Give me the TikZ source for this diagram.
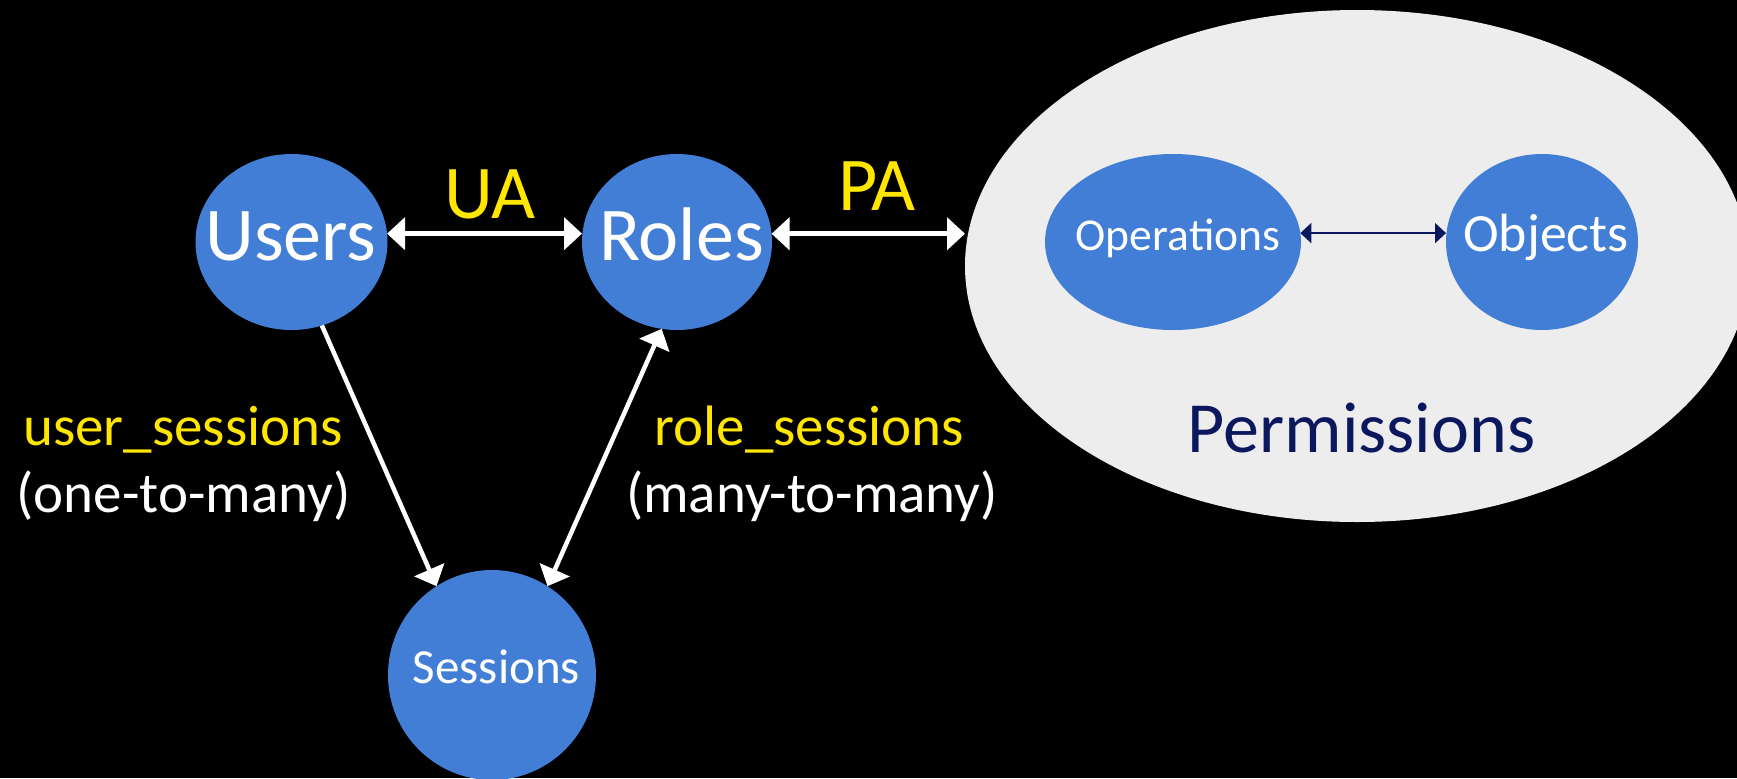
\documentclass[tikz,border=0pt]{standalone}
\usepackage{fontspec}
\setmainfont{Carlito}
\usetikzlibrary{arrows.meta,shapes.geometric}

\definecolor{entityblue}{RGB}{67,126,214}
\definecolor{permgrey}{RGB}{237,237,237}
\definecolor{permnavy}{RGB}{12,24,94}
\definecolor{relyellow}{RGB}{255,230,0}

\tikzset{
  blob/.style={ellipse, fill=entityblue, draw=none, inner sep=0pt, outer sep=0pt},
  nametxt/.style={inner sep=0pt, anchor=base, text=white},
  reltxt/.style={inner sep=0pt, anchor=base, text=relyellow},
  cardtxt/.style={inner sep=0pt, anchor=base, text=white},
  bigfont/.style={font=\fontsize{38}{40}\selectfont},
  labelfont/.style={font=\fontsize{28.5}{30}\selectfont},
  fattip/.tip={Triangle[length=9pt,width=16pt]},
  thintip/.tip={Triangle[length=5.5pt,width=10pt]},
  rel/.style={draw=white, line width=2.25pt, -fattip},
  birel/.style={draw=white, line width=2.25pt, fattip-fattip},
  navyrel/.style={draw=permnavy, line width=1pt, thintip-thintip},
}

\begin{document}
\begin{tikzpicture}[x=0.5pt,y=-0.5pt]
\useasboundingbox (0,0) rectangle (1737,778);
\clip (0,0) rectangle (1737,778);
\fill[black] (0,0) rectangle (1737,778);

% permission set with its two parts
\node[ellipse, fill=permgrey, inner sep=0pt, outer sep=0pt,
      minimum width=392pt, minimum height=256pt] (perm) at (1357,266) {};
\node[blob, minimum width=128pt, minimum height=88pt] (ops) at (1173,242) {};
\node[blob, minimum width=96pt, minimum height=88pt] (objs) at (1542,242) {};
\node[inner sep=0pt, anchor=base, text=permnavy, font=\fontsize{36}{38}\selectfont]
      (permlbl) at (1361.5,452) {Permissions};
\node[nametxt, font=\fontsize{22.8}{24}\selectfont] (opslbl) at (1178,250) {Operations};
\node[nametxt, font=\fontsize{26.9}{28}\selectfont] (objslbl) at (1546,251) {Objects};

% users, roles and sessions
\node[blob, minimum width=96pt, minimum height=88pt] (users) at (291.5,242) {};
\node[blob, minimum width=95pt, minimum height=88pt] (roles) at (677,242) {};
\node[blob, minimum width=104pt, minimum height=105pt] (sessions) at (492,675) {};
\node[nametxt, bigfont] (userslbl) at (291,260) {Users};
\node[nametxt, bigfont] (roleslbl) at (681.5,260) {Roles};
\node[nametxt, font=\fontsize{24.5}{26}\selectfont] (sesslbl) at (496.5,683) {Sessions};

% relation names
\node[reltxt, bigfont] (ua) at (490,218) {UA};
\node[reltxt, bigfont] (pa) at (877,210) {PA};
\node[reltxt, labelfont] (us) at (183,445) {user\_sessions};
\node[cardtxt, labelfont] (usc) at (183.5,512) {(one-to-many)};
\node[reltxt, labelfont] (rs) at (809.5,445) {role\_sessions};
\node[cardtxt, labelfont] (rsc) at (812,512) {(many-to-many)};

% connectors
\draw[birel] (users.5) -- (users.5 -| roles.west);
\draw[birel] (roles.5) -- (roles.5 -| perm.west);
\draw[rel] (users.-70) -- (sessions.122);
\draw[birel] (sessions.58) -- (roles.-100);
\draw[navyrel] (ops.4) -- (ops.4 -| objs.west);
\end{tikzpicture}
\end{document}
